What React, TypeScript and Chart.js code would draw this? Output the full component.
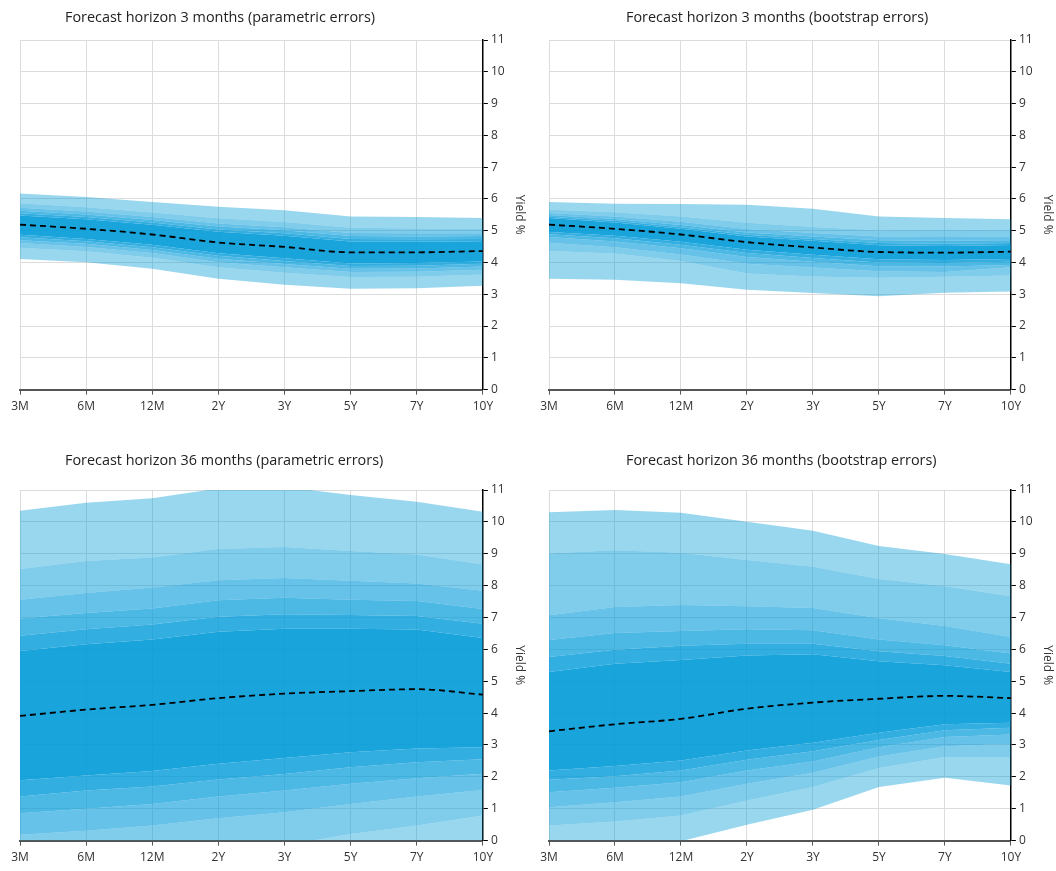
import React, { useEffect, useRef } from "react";
import { Chart, registerables } from "chart.js";

Chart.register(...registerables);
Chart.defaults.font.family = "'Open Sans', sans-serif";

const TENORS = ["3M", "6M", "12M", "2Y", "3Y", "5Y", "7Y", "10Y"];
const Y_MIN = 0;
const Y_MAX = 11;
const Y_TITLE = "Yield %";

// Forecast horizon 3 months, parametric errors (percentile bounds)
const TL_P01 = [4.11, 4.01, 3.8, 3.49, 3.3, 3.17, 3.19, 3.27];
const TL_P05 = [4.46, 4.35, 4.15, 3.85, 3.68, 3.54, 3.55, 3.62];
const TL_P10 = [4.61, 4.49, 4.3, 4.01, 3.85, 3.7, 3.71, 3.77];
const TL_P15 = [4.7, 4.59, 4.39, 4.12, 3.95, 3.8, 3.81, 3.87];
const TL_P20 = [4.79, 4.67, 4.48, 4.21, 4.05, 3.89, 3.9, 3.96];
const TL_P25 = [4.87, 4.74, 4.56, 4.29, 4.13, 3.97, 3.98, 4.03];
const TL_P50 = [5.19, 5.06, 4.88, 4.63, 4.49, 4.32, 4.32, 4.36];
const TL_P75 = [5.48, 5.36, 5.19, 4.97, 4.84, 4.66, 4.65, 4.67];
const TL_P80 = [5.55, 5.43, 5.26, 5.04, 4.92, 4.74, 4.73, 4.74];
const TL_P85 = [5.63, 5.51, 5.34, 5.13, 5.01, 4.83, 4.82, 4.83];
const TL_P90 = [5.72, 5.6, 5.43, 5.23, 5.11, 4.93, 4.92, 4.92];
const TL_P95 = [5.86, 5.74, 5.57, 5.39, 5.27, 5.09, 5.07, 5.07];
const TL_P99 = [6.17, 6.06, 5.9, 5.75, 5.64, 5.45, 5.43, 5.4];

// Forecast horizon 3 months, bootstrap errors
const TR_P01 = [3.49, 3.46, 3.35, 3.14, 3.04, 2.94, 3.05, 3.09];
const TR_P05 = [4.36, 4.28, 4.05, 3.65, 3.56, 3.52, 3.55, 3.59];
const TR_P10 = [4.62, 4.48, 4.25, 3.96, 3.84, 3.72, 3.7, 3.85];
const TR_P15 = [4.8, 4.66, 4.45, 4.17, 4.02, 3.88, 3.87, 3.92];
const TR_P20 = [4.89, 4.76, 4.56, 4.3, 4.14, 4.0, 3.98, 4.02];
const TR_P25 = [4.96, 4.84, 4.65, 4.4, 4.24, 4.1, 4.08, 4.11];
const TR_P50 = [5.19, 5.06, 4.88, 4.64, 4.47, 4.33, 4.31, 4.34];
const TR_P75 = [5.4, 5.26, 5.06, 4.82, 4.68, 4.54, 4.52, 4.55];
const TR_P80 = [5.44, 5.31, 5.11, 4.87, 4.74, 4.61, 4.59, 4.61];
const TR_P85 = [5.49, 5.37, 5.18, 4.94, 4.82, 4.7, 4.68, 4.7];
const TR_P90 = [5.56, 5.45, 5.28, 5.05, 4.93, 4.82, 4.8, 4.82];
const TR_P95 = [5.66, 5.58, 5.45, 5.25, 5.12, 5.01, 5.02, 5.04];
const TR_P99 = [5.9, 5.85, 5.84, 5.82, 5.69, 5.45, 5.4, 5.36];

// Forecast horizon 36 months, parametric errors
const BL_P01 = [-2.53, -2.38, -2.22, -2.11, -1.88, -1.46, -1.13, -1.16];
const BL_P05 = [-0.7, -0.6, -0.45, -0.3, -0.15, 0.21, 0.47, 0.79];
const BL_P10 = [0.18, 0.31, 0.47, 0.7, 0.89, 1.15, 1.38, 1.59];
const BL_P15 = [0.86, 1.0, 1.15, 1.38, 1.57, 1.78, 1.96, 2.1];
const BL_P20 = [1.38, 1.57, 1.7, 1.92, 2.09, 2.3, 2.46, 2.55];
const BL_P25 = [1.89, 2.04, 2.18, 2.41, 2.59, 2.77, 2.89, 2.93];
const BL_P50 = [3.91, 4.11, 4.26, 4.47, 4.61, 4.69, 4.75, 4.58];
const BL_P75 = [5.95, 6.16, 6.31, 6.55, 6.65, 6.65, 6.62, 6.36];
const BL_P80 = [6.43, 6.63, 6.78, 7.02, 7.1, 7.08, 7.05, 6.8];
const BL_P85 = [6.97, 7.14, 7.28, 7.54, 7.62, 7.56, 7.52, 7.27];
const BL_P90 = [7.56, 7.77, 7.94, 8.17, 8.24, 8.15, 8.07, 7.84];
const BL_P95 = [8.52, 8.77, 8.88, 9.15, 9.21, 9.09, 8.98, 8.66];
const BL_P99 = [10.35, 10.6, 10.74, 11.05, 11.1, 10.84, 10.63, 10.32];

// Forecast horizon 36 months, bootstrap errors
const BR_P01 = [-0.35, -0.2, -0.02, 0.5, 0.97, 1.68, 1.97, 1.73];
const BR_P05 = [0.47, 0.6, 0.79, 1.26, 1.68, 2.28, 2.62, 2.62];
const BR_P10 = [1.05, 1.2, 1.38, 1.78, 2.13, 2.64, 2.96, 3.04];
const BR_P15 = [1.52, 1.66, 1.83, 2.2, 2.48, 2.93, 3.25, 3.33];
const BR_P20 = [1.91, 2.02, 2.2, 2.54, 2.8, 3.16, 3.46, 3.54];
const BR_P25 = [2.2, 2.34, 2.51, 2.83, 3.07, 3.38, 3.65, 3.7];
const BR_P50 = [3.43, 3.65, 3.82, 4.14, 4.33, 4.45, 4.54, 4.47];
const BR_P75 = [5.29, 5.55, 5.67, 5.81, 5.85, 5.63, 5.5, 5.29];
const BR_P80 = [5.76, 5.99, 6.11, 6.18, 6.18, 5.94, 5.79, 5.55];
const BR_P85 = [6.29, 6.51, 6.58, 6.63, 6.6, 6.31, 6.13, 5.87];
const BR_P90 = [7.07, 7.33, 7.39, 7.35, 7.3, 6.98, 6.73, 6.39];
const BR_P95 = [9.01, 9.11, 9.03, 8.8, 8.59, 8.21, 7.98, 7.67];
const BR_P99 = [10.3, 10.37, 10.29, 10.0, 9.72, 9.24, 8.99, 8.67];

const BAND_ALPHAS = [0, 0.4, 0.5, 0.6, 0.7, 0.8, 0.9, 0.8, 0.7, 0.6, 0.5, 0.4];
const BAND_RGB = "0,154,216";

type PanelCfg = {
  title: string;
  bands: number[][];
  median: number[];
  left: number;
  top: number;
  width: number;
  height: number;
  pad: { top: number; right: number; bottom: number; left: number };
  titleX: number;
  titleY: number;
};

const PANELS: PanelCfg[] = [
  {
    title: "Forecast horizon 3 months (parametric errors)",
    bands: [TL_P01, TL_P05, TL_P10, TL_P15, TL_P20, TL_P25, TL_P75, TL_P80, TL_P85, TL_P90, TL_P95, TL_P99],
    median: TL_P50,
    left: 0, top: 0, width: 528, height: 435,
    pad: { top: 40, right: 0, bottom: 16, left: 20 },
    titleX: 65, titleY: 7,
  },
  {
    title: "Forecast horizon 3 months (bootstrap errors)",
    bands: [TR_P01, TR_P05, TR_P10, TR_P15, TR_P20, TR_P25, TR_P75, TR_P80, TR_P85, TR_P90, TR_P95, TR_P99],
    median: TR_P50,
    left: 529, top: 0, width: 527, height: 435,
    pad: { top: 40, right: 0, bottom: 16, left: 20 },
    titleX: 626, titleY: 7,
  },
  {
    title: "Forecast horizon 36 months (parametric errors)",
    bands: [BL_P01, BL_P05, BL_P10, BL_P15, BL_P20, BL_P25, BL_P75, BL_P80, BL_P85, BL_P90, BL_P95, BL_P99],
    median: BL_P50,
    left: 0, top: 435, width: 528, height: 436,
    pad: { top: 55, right: 0, bottom: 1, left: 20 },
    titleX: 65, titleY: 450,
  },
  {
    title: "Forecast horizon 36 months (bootstrap errors)",
    bands: [BR_P01, BR_P05, BR_P10, BR_P15, BR_P20, BR_P25, BR_P75, BR_P80, BR_P85, BR_P90, BR_P95, BR_P99],
    median: BR_P50,
    left: 529, top: 435, width: 527, height: 436,
    pad: { top: 55, right: 0, bottom: 1, left: 20 },
    titleX: 626, titleY: 450,
  },
];

function Panel({ cfg }: { cfg: PanelCfg }) {
  const ref = useRef<HTMLCanvasElement>(null);
  useEffect(() => {
    if (!ref.current) return;
    const datasets: any[] = cfg.bands.map((data, i) => ({
      data,
      borderWidth: 0,
      borderColor: "rgba(0,0,0,0)",
      pointRadius: 0,
      fill: i === 0 ? false : "-1",
      backgroundColor: `rgba(${BAND_RGB},${BAND_ALPHAS[i]})`,
      tension: 0,
      order: 1,
    }));
    datasets.push({
      data: cfg.median,
      borderColor: "#000",
      borderWidth: 1.8,
      borderDash: [6, 4],
      pointRadius: 0,
      fill: false,
      cubicInterpolationMode: "monotone",
      order: 0,
    });
    const chart = new Chart(ref.current, {
      type: "line",
      data: { labels: TENORS, datasets },
      options: {
        animation: false,
        responsive: false,
        layout: { padding: cfg.pad },
        plugins: {
          legend: { display: false },
          tooltip: { enabled: false },
          title: { display: false },
        },
        scales: {
          x: {
            type: "category",
            offset: false,
            grid: { color: "#dcdcdc", tickColor: "#555", tickLength: 5, offset: false },
            border: { color: "#555", width: 2 },
            ticks: { color: "#333", font: { size: 12 }, padding: 5, maxRotation: 0, autoSkip: false },
          },
          y: {
            position: "right",
            min: Y_MIN,
            max: Y_MAX,
            ticks: { stepSize: 1, color: "#333", font: { size: 12 }, padding: 3 },
            grid: { color: "#dcdcdc", tickColor: "#000", tickLength: 5 },
            border: { color: "#000", width: 1.5 },
            title: {
              display: true,
              text: Y_TITLE,
              color: "#333",
              font: { size: 12 },
              padding: { top: 1, bottom: 5 },
            },
          },
        },
      } as any,
    });
    return () => chart.destroy();
  }, [cfg]);
  return (
    <canvas
      ref={ref}
      width={cfg.width}
      height={cfg.height}
      style={{ position: "absolute", left: cfg.left, top: cfg.top, width: cfg.width, height: cfg.height }}
    />
  );
}

export default function App() {
  return (
    <div style={{ position: "absolute", left: 0, top: 0, width: 1056, height: 871, background: "#fff", overflow: "hidden" }}>
      {PANELS.map((p, i) => (
        <React.Fragment key={i}>
          <Panel cfg={p} />
          <div
            style={{
              position: "absolute",
              left: p.titleX,
              top: p.titleY,
              fontFamily: "'Open Sans', sans-serif",
              fontSize: 14.4,
              lineHeight: "20px",
              color: "#222",
              whiteSpace: "nowrap",
            }}
          >
            {p.title}
          </div>
        </React.Fragment>
      ))}
    </div>
  );
}
